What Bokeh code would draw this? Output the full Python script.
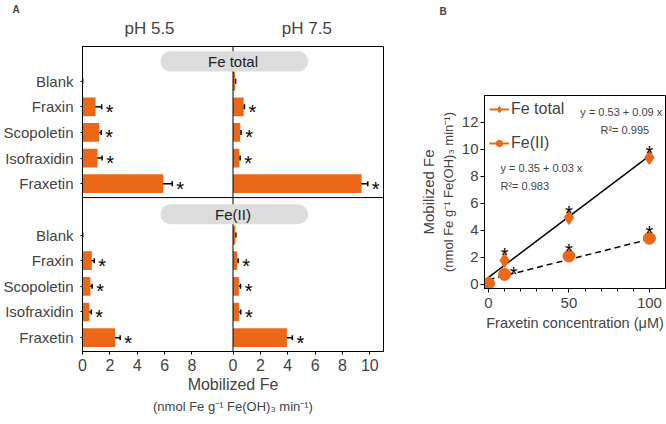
from bokeh.plotting import figure
from bokeh.models import (ColumnDataSource, Range1d, FixedTicker, LinearAxis, Span,
                          BoxAnnotation, Label, Whisker, TeeHead, Legend, LegendItem)
from bokeh.layouts import row, column
from bokeh.embed import file_html
from bokeh.resources import INLINE
from bokeh.core.properties import value

FONT = "Liberation Sans"
ORANGE = "#EB6819"
STRIP = "#dcdcdc"

# ---------------- data ----------------
compounds = ["Blank", "Fraxin", "Scopoletin", "Isofraxidin", "Fraxetin"]
ph_labels = ["pH 5.5", "pH 7.5"]
measures = ["Fe total", "Fe(II)"]

fe_total_ph55 = [0.0, 0.95, 1.22, 1.10, 5.90]
fe_total_ph55_err = [0.0, 0.45, 0.15, 0.33, 0.66]
fe_total_ph75 = [0.15, 0.78, 0.53, 0.46, 9.40]
fe_total_ph75_err = [0.04, 0.06, 0.06, 0.06, 0.45]
fe2_ph55 = [0.0, 0.68, 0.58, 0.49, 2.38]
fe2_ph55_err = [0.0, 0.18, 0.12, 0.15, 0.37]
fe2_ph75 = [0.17, 0.30, 0.43, 0.45, 3.94]
fe2_ph75_err = [0.04, 0.08, 0.12, 0.12, 0.40]
significant = [False, True, True, True, True]

a_ticks_left = [0, 2, 4, 6, 8]
a_ticks_right = [0, 2, 4, 6, 8, 10]

conc = [0, 10, 50, 100]
b_fe_total = [0.10, 1.78, 4.96, 9.40]
b_fe2 = [0.07, 0.74, 2.10, 3.42]
b_significant = [False, True, True, True]
fit_total = (0.53, 0.09, 0.995)
fit_fe2 = (0.35, 0.03, 0.983)
b_xticks = [0, 50, 100]
b_yticks = [0, 2, 4, 6, 8, 10, 12]

UNITS = "(nmol Fe g\u207b\u00b9 Fe(OH)\u2083 min\u207b\u00b9)"

# ---------------- panel A ----------------
XOFF = 11.0
YOFF = 6.0
n = len(compounds)
pos = [n - i for i in range(n)]

pA = figure(width=410, height=422, frame_width=301, frame_height=305,
            x_range=Range1d(0, 22), y_range=Range1d(0.46, 12.35),
            output_backend="svg", toolbar_location=None, title="A", title_location="above",
            min_border_left=80, min_border_right=29, min_border_top=46, min_border_bottom=71)
pA.title.text_font = FONT
pA.title.text_font_size = "10px"
pA.title.text_font_style = "bold"
pA.title.align = "left"
pA.title.offset = -70
pA.title.standoff = 2
pA.grid.visible = False
pA.outline_line_color = "black"
pA.outline_line_width = 1
ax = pA.below[0]
ay = pA.left[0]

facets = [
    (fe_total_ph55, fe_total_ph55_err, 0.0, YOFF),
    (fe_total_ph75, fe_total_ph75_err, XOFF, YOFF),
    (fe2_ph55, fe2_ph55_err, 0.0, 0.0),
    (fe2_ph75, fe2_ph75_err, XOFF, 0.0),
]
bars = dict(y=[], left=[], right=[], lo=[], hi=[])
stars = dict(x=[], y=[])
for vals, errs, xo, yo in facets:
    for i in range(n):
        y = pos[i] + yo
        bars["y"].append(y)
        bars["left"].append(xo)
        bars["right"].append(xo + vals[i])
        bars["lo"].append(xo + vals[i] - errs[i])
        bars["hi"].append(xo + vals[i] + errs[i])
        if significant[i]:
            stars["x"].append(xo + vals[i] + errs[i])
            stars["y"].append(y)
src = ColumnDataSource(bars)
pA.hbar(y="y", left="left", right="right", height=0.73, source=src,
        fill_color=ORANGE, line_color=None)
pA.add_layout(Whisker(source=src, base="y", lower="lo", upper="hi", dimension="width",
                      line_color="black", line_width=1.5,
                      upper_head=TeeHead(size=5, line_width=1.5, line_color="black"),
                      lower_head=TeeHead(size=5, line_width=1.5, line_color="black")))
pA.text(x="x", y="y", text=value("*"), source=ColumnDataSource(stars),
        text_font=value(FONT), text_font_size="20px", text_align="center",
        text_baseline="middle", x_offset=8, y_offset=5, text_color="black")

pA.add_layout(Span(location=XOFF, dimension="height", line_color="black", line_width=1))
pA.add_layout(Span(location=YOFF + 0.46, dimension="width", line_color="black", line_width=1))

strip_rows = [(measures[0], 5.77 + YOFF), (measures[1], 5.81)]
for lab, yc in strip_rows:
    pA.add_layout(BoxAnnotation(left=5.7, right=16.5, bottom=yc - 0.39, top=yc + 0.39,
                                fill_color=STRIP, fill_alpha=1, line_color=None,
                                border_radius=10))
    pA.add_layout(Label(x=XOFF, y=yc, text=lab, text_align="center", text_baseline="middle",
                        text_font=FONT, text_font_size="15px", text_color="#222222"))

xt = a_ticks_left + [XOFF + t for t in a_ticks_right]
xl = {float(t): str(t) for t in a_ticks_left}
xl.update({float(XOFF + t): str(t) for t in a_ticks_right})
ax.ticker = FixedTicker(ticks=xt, minor_ticks=[])
ax.major_label_overrides = xl
ax.axis_label = "Mobilized Fe"
ax.major_label_text_font = FONT
ax.major_label_text_font_size = "16px"
ax.axis_label_text_font = FONT
ax.axis_label_text_font_size = "16px"
ax.axis_label_text_font_style = "normal"
ax.major_tick_out = 3
ax.major_tick_in = 0
ax.major_label_standoff = 4
ax.axis_label_standoff = 2
ax.axis_line_color = "black"

ax2 = LinearAxis(ticker=FixedTicker(ticks=[]), axis_label=UNITS,
                 axis_line_color=None, major_tick_line_color=None, minor_tick_line_color=None,
                 major_tick_out=0, minor_tick_out=0, major_label_standoff=0,
                 axis_label_text_font=FONT, axis_label_text_font_size="13px",
                 axis_label_text_font_style="normal", axis_label_standoff=3)
pA.add_layout(ax2, "below")

yt = [float(p) for p in pos] + [float(p + YOFF) for p in pos]
yl = {float(p): c for p, c in zip(pos, compounds)}
yl.update({float(p + YOFF): c for p, c in zip(pos, compounds)})
ay.ticker = FixedTicker(ticks=yt, minor_ticks=[])
ay.major_label_overrides = yl
ay.major_label_text_font = FONT
ay.major_label_text_font_size = "15px"
ay.major_tick_out = 2
ay.major_tick_in = 0
ay.major_label_standoff = 7
ay.axis_line_color = "black"

atop = LinearAxis(ticker=FixedTicker(ticks=[4.9, 16.4]),
                  major_label_overrides={4.9: ph_labels[0], 16.4: ph_labels[1]},
                  axis_line_color=None, major_tick_line_color=None, minor_tick_line_color=None,
                  major_tick_out=0, minor_tick_out=0,
                  major_label_text_font=FONT, major_label_text_font_size="17px",
                  major_label_standoff=9)
pA.add_layout(atop, "above")

# ---------------- panel B ----------------
pB = figure(width=256, height=338, frame_width=181, frame_height=193,
            x_range=Range1d(-2.5, 110), y_range=Range1d(-0.3, 14),
            output_backend="svg", toolbar_location=None, title="B", title_location="above",
            min_border_left=72, min_border_right=3, min_border_top=95, min_border_bottom=50)
pB.title.text_font = FONT
pB.title.text_font_size = "10px"
pB.title.text_font_style = "bold"
pB.title.align = "left"
pB.title.offset = -45
pB.title.standoff = 2
pB.grid.visible = False
pB.outline_line_color = "black"
bx = pB.below[0]
by = pB.left[0]

# blank spacer axis above the frame, so the panel letter sits near the top
bspace = LinearAxis(ticker=FixedTicker(ticks=[]), axis_line_color=None,
                    major_tick_line_color=None, minor_tick_line_color=None,
                    major_tick_out=0, minor_tick_out=0, major_label_standoff=0,
                    axis_label=" ", axis_label_text_font=FONT, axis_label_text_font_size="10px",
                    axis_label_standoff=64)
pB.add_layout(bspace, "above")

fx = [conc[0], conc[-1]]
pB.line(fx, [fit_total[0] + fit_total[1] * x for x in fx], line_color="black", line_width=1.5)
pB.line(fx, [fit_fe2[0] + fit_fe2[1] * x for x in fx], line_color="black", line_width=1.5,
        line_dash="6 4")
pB.scatter(conc, b_fe_total, marker="diamond", size=14, fill_color=ORANGE, line_color=ORANGE)
pB.scatter(conc, b_fe2, marker="circle", size=12, fill_color=ORANGE, line_color=ORANGE)

star_dx = {"tot": [0, 0, 0, 0], "fe2": [0, 9, 0, 0]}
star_dy = {"tot": [0, 10, 10, 10], "fe2": [0, 5, 10, 10]}
for key, vals in (("tot", b_fe_total), ("fe2", b_fe2)):
    for i, (x, y) in enumerate(zip(conc, vals)):
        if b_significant[i]:
            pB.text([x], [y], text=value("*"), text_font=value(FONT), text_font_size="20px",
                    text_align="center", text_baseline="middle",
                    x_offset=star_dx[key][i], y_offset=5 - star_dy[key][i])

# legend-only renderers placed outside the visible ranges
l1 = pB.line([-60, -50], [-60, -60], line_color=ORANGE, line_width=2)
m1 = pB.scatter([-55], [-60], marker="diamond", size=13, fill_color=ORANGE, line_color=ORANGE)
l2 = pB.line([-60, -50], [-60, -60], line_color=ORANGE, line_width=2)
m2 = pB.scatter([-55], [-60], marker="circle", size=12, fill_color=ORANGE, line_color=ORANGE)
leg = Legend(items=[LegendItem(label=measures[0], renderers=[l1, m1]),
                    LegendItem(label=measures[1], renderers=[l2, m2])],
             location="top_left", spacing=16, glyph_width=20, glyph_height=16,
             label_text_font=FONT, label_text_font_size="16px", label_standoff=2,
             padding=3, margin=5, border_line_color=None, background_fill_alpha=0)
pB.add_layout(leg)

eq_style = dict(text_font=FONT, text_font_size="11px", text_baseline="middle")
pB.add_layout(Label(x=108, y=12.75, text=f"y = {fit_total[0]:.2f} + {fit_total[1]:.2f} x",
                    text_align="right", **eq_style))
pB.add_layout(Label(x=69.6, y=11.45, text=f"R\u00b2= {fit_total[2]:.3f}", text_align="left", **eq_style))
pB.add_layout(Label(x=7.4, y=8.6, text=f"y = {fit_fe2[0]:.2f} + {fit_fe2[1]:.2f} x",
                    text_align="left", **eq_style))
pB.add_layout(Label(x=7.4, y=7.3, text=f"R\u00b2= {fit_fe2[2]:.3f}", text_align="left", **eq_style))

bx.ticker = FixedTicker(ticks=b_xticks, minor_ticks=list(range(0, 101, 10)))
bx.axis_label = "Fraxetin concentration (\u03bcM)"
by.ticker = FixedTicker(ticks=b_yticks, minor_ticks=[])
by.axis_label = UNITS
for a in (bx, by):
    a.major_label_text_font = FONT
    a.major_label_text_font_size = "15px"
    a.axis_label_text_font = FONT
    a.axis_label_text_font_style = "normal"
    a.major_tick_out = 4
    a.major_tick_in = 0
    a.minor_tick_out = 3
    a.minor_tick_in = 0
    a.axis_line_color = "black"
bx.major_label_standoff = 5
bx.axis_label_text_font_size = "14.5px"
bx.axis_label_standoff = 4
by.major_label_standoff = 2
by.axis_label_text_font_size = "13px"
by.axis_label_standoff = 3

by2 = LinearAxis(ticker=FixedTicker(ticks=[]), axis_label="Mobilized Fe",
                 axis_line_color=None, major_tick_line_color=None, minor_tick_line_color=None,
                 major_tick_out=0, minor_tick_out=0, major_label_standoff=0,
                 axis_label_text_font=FONT, axis_label_text_font_size="15px",
                 axis_label_text_font_style="normal", axis_label_standoff=1)
pB.add_layout(by2, "left")

root = row(column(pA), column(pB))
open("out.html", "w").write(file_html(root, INLINE))
